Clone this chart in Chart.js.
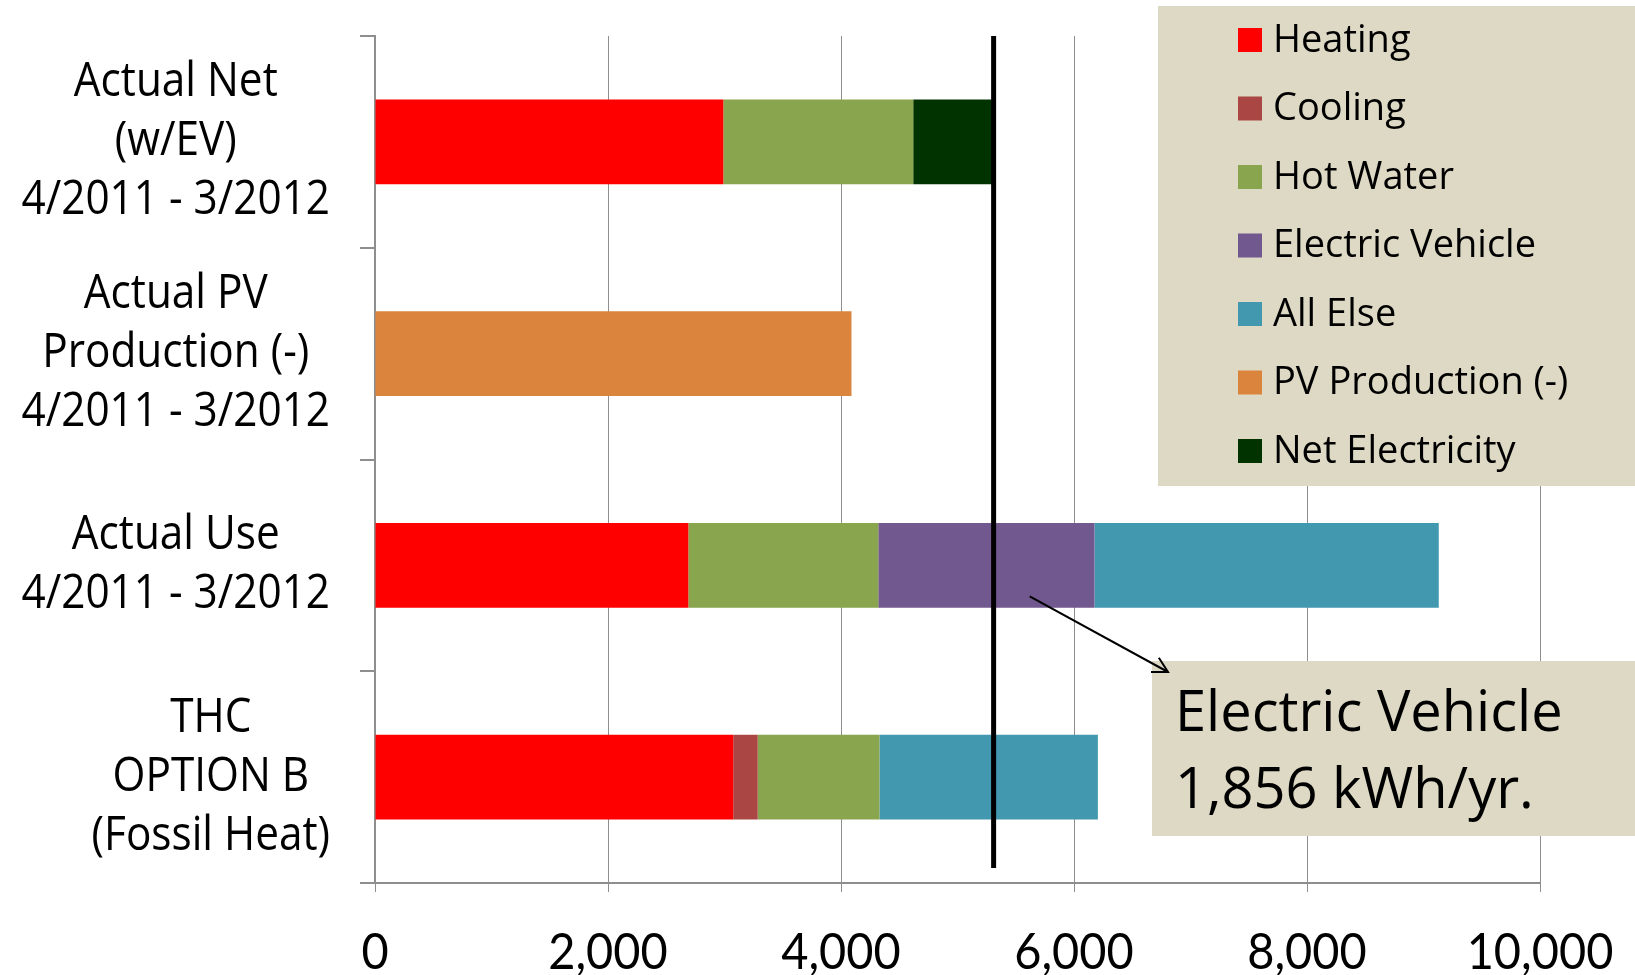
<!DOCTYPE html>
<html>
<head>
<meta charset="utf-8">
<script src="https://cdn.jsdelivr.net/npm/chart.js@4/dist/chart.umd.min.js"></script>
<style>
  html, body { margin: 0; padding: 0; background: #ffffff; }
  #wrap { width: 1635px; height: 975px; }
</style>
</head>
<body>
<div id="wrap"><canvas id="chart" width="1635" height="975"></canvas></div>
<script>
// Categories, top to bottom (each entry is a multi-line label)
const categories = [
  ['Actual Net', '(w/EV)', '4/2011 - 3/2012'],
  ['Actual PV', 'Production (-)', '4/2011 - 3/2012'],
  ['Actual Use', '4/2011 - 3/2012'],
  ['THC', 'OPTION B', '(Fossil Heat)']
];

// Annual electricity, kWh/yr, per end use
const heating     = [2990, null, 2690, 3075];
const cooling     = [null, null, null, 210];
const hotWater    = [1630, null, 1630, 1045];
const evCharging  = [null, null, 1856, null];
const allElse     = [null, null, 2955, 1875];
const pvProduced  = [null, 4090, null, null];
const netElectric = [690, null, null, null];

const seriesNames = ['Heating', 'Cooling', 'Hot Water', 'Electric Vehicle', 'All Else', 'PV Production (-)', 'Net Electricity'];
const seriesData = [heating, cooling, hotWater, evCharging, allElse, pvProduced, netElectric];
const seriesColors = ['#FF0000', '#AA4643', '#89A54E', '#71588F', '#4198AF', '#DB843D', '#003300'];

const xTicks = [0, 2000, 4000, 6000, 8000, 10000];

// Net total of the first bar, marked with a vertical rule
const netTotal = seriesData.reduce((s, arr) => s + (arr[0] || 0), 0);
const evIndex = 2;
const evValue = evCharging[evIndex];

const TAN = '#DDD9C4';
const GRID = '#8E8E8E';

// Draws text squeezed horizontally by factor sx around (x, y)
function squeezedText(ctx, text, x, y, sx) {
  ctx.save();
  ctx.translate(x, y);
  ctx.scale(sx, 1);
  ctx.fillText(text, 0, 0);
  ctx.restore();
}

const categoryLabels = {
  id: 'categoryLabels',
  afterDraw(chart) {
    const ctx = chart.ctx, y = chart.scales.y;
    const sx = 0.9;
    ctx.save();
    ctx.font = '47px "Open Sans"';
    ctx.fillStyle = '#000';
    ctx.textBaseline = 'middle';
    ctx.textAlign = 'center';
    const lh = 59;
    const right = 330;
    categories.forEach((lines, i) => {
      const w = sx * Math.max(...lines.map(l => ctx.measureText(l).width));
      const cx = right - w / 2;
      const cy = y.getPixelForValue(i);
      lines.forEach((l, k) => squeezedText(ctx, l, cx, cy + (k - (lines.length - 1) / 2) * lh, sx));
    });
    ctx.restore();
  }
};

const xLabels = {
  id: 'xLabels',
  afterDraw(chart) {
    const ctx = chart.ctx, x = chart.scales.x;
    ctx.save();
    ctx.font = '51px Lato';
    ctx.fillStyle = '#000';
    ctx.textBaseline = 'middle';
    ctx.textAlign = 'center';
    xTicks.forEach(v => squeezedText(ctx, v.toLocaleString('en-US'), x.getPixelForValue(v), 953, 0.92));
    ctx.restore();
  }
};

const netRule = {
  id: 'netRule',
  afterDatasetsDraw(chart) {
    const ctx = chart.ctx, area = chart.chartArea;
    const x = chart.scales.x.getPixelForValue(netTotal);
    ctx.save();
    ctx.strokeStyle = '#000';
    ctx.lineWidth = 5;
    ctx.beginPath();
    ctx.moveTo(x, area.top);
    ctx.lineTo(x, area.bottom - 15);
    ctx.stroke();
    ctx.restore();
  }
};

const legendBox = {
  id: 'legendBox',
  afterDraw(chart) {
    const ctx = chart.ctx;
    ctx.save();
    ctx.fillStyle = TAN;
    ctx.fillRect(1158, 6, 477, 480);
    ctx.font = '38px "Open Sans"';
    ctx.textBaseline = 'middle';
    ctx.textAlign = 'left';
    chart.data.datasets.forEach((ds, i) => {
      const cy = 40 + i * 68.5;
      ctx.fillStyle = ds.backgroundColor;
      ctx.fillRect(1238, cy - 12, 24, 24);
      ctx.fillStyle = '#000';
      ctx.fillText(ds.label, 1273, cy + 1);
    });
    ctx.restore();
  }
};

const evCallout = {
  id: 'evCallout',
  afterDraw(chart) {
    const ctx = chart.ctx;
    const x0 = chart.scales.x.getPixelForValue(5620);
    const y0 = chart.scales.y.getPixelForValue(evIndex) + 31;
    const bx = 1152, by = 661, bw = 483, bh = 175;
    ctx.save();
    ctx.fillStyle = TAN;
    ctx.fillRect(bx, by, bw, bh);
    ctx.fillStyle = '#000';
    ctx.font = '56px "Open Sans"';
    ctx.textBaseline = 'alphabetic';
    ctx.textAlign = 'left';
    ctx.fillText('Electric Vehicle', 1175, 731);
    ctx.fillText(evValue.toLocaleString('en-US') + ' kWh/yr.', 1175, 808);
    // arrow from the EV segment to the callout
    const x1 = 1168, y1 = 672;
    ctx.strokeStyle = '#000';
    ctx.lineWidth = 2;
    ctx.beginPath();
    ctx.moveTo(x0, y0);
    ctx.lineTo(x1, y1);
    ctx.stroke();
    const a = Math.atan2(y1 - y0, x1 - x0);
    const L = 17, spread = 0.5;
    ctx.beginPath();
    ctx.moveTo(x1 - L * Math.cos(a - spread), y1 - L * Math.sin(a - spread));
    ctx.lineTo(x1, y1);
    ctx.lineTo(x1 - L * Math.cos(a + spread), y1 - L * Math.sin(a + spread));
    ctx.stroke();
    ctx.restore();
  }
};

const chart = new Chart(document.getElementById('chart'), {
  type: 'bar',
  data: {
    labels: categories,
    datasets: seriesNames.map((name, i) => ({
      label: name,
      data: seriesData[i],
      backgroundColor: seriesColors[i],
      borderWidth: 0,
      categoryPercentage: 0.8,
      barPercentage: 0.5
    }))
  },
  options: {
    indexAxis: 'y',
    responsive: false,
    animation: false,
    devicePixelRatio: 1,
    layout: { padding: { left: 0, right: 95, top: 36, bottom: 0 } },
    plugins: { legend: { display: false }, tooltip: { enabled: false } },
    scales: {
      x: {
        stacked: true,
        min: 0,
        max: 10000,
        afterBuildTicks: s => { s.ticks = xTicks.map(v => ({ value: v })); },
        afterFit: s => { s.height = 92; s.paddingLeft = 0; s.paddingRight = 0; },
        grid: { color: GRID, lineWidth: 1, tickLength: 9, drawTicks: true },
        border: { color: GRID, width: 2 },
        ticks: { display: false }
      },
      y: {
        stacked: true,
        afterFit: s => { s.width = 375; },
        grid: { color: GRID, lineWidth: 2, drawOnChartArea: false, tickLength: 15, offset: true },
        border: { color: GRID, width: 2 },
        ticks: { display: false }
      }
    }
  },
  plugins: [netRule, categoryLabels, xLabels, legendBox, evCallout]
});
</script>
</body>
</html>
